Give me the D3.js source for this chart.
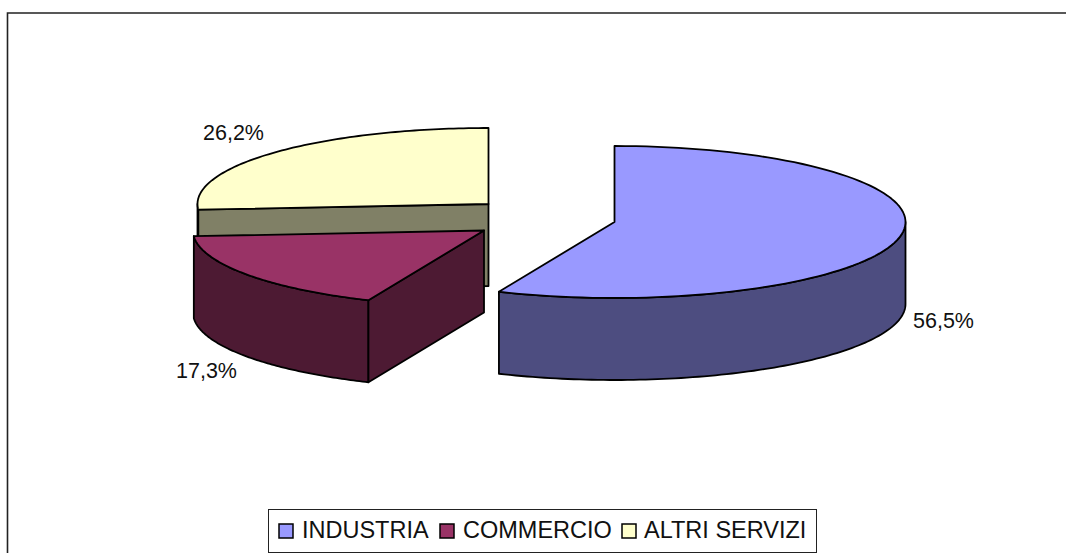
<!DOCTYPE html>
<html><head><meta charset="utf-8">
<script src="https://cdn.jsdelivr.net/npm/d3@7/dist/d3.min.js"></script>
<style>html,body{margin:0;padding:0;background:#fff;overflow:hidden}svg{display:block}
text{font-family:"Liberation Sans",Arial,sans-serif;fill:#111}</style></head>
<body><svg id="c" width="1066" height="553"></svg>
<script>
const categories = ["INDUSTRIA", "COMMERCIO", "ALTRI SERVIZI"];
const values = [56.5, 17.3, 26.2];
const pctLabels = ["56,5%", "17,3%", "26,2%"];
const topColors = ["#9999ff", "#993366", "#ffffcc"];
const sideColors = ["#4d4d80", "#4d1a33", "#808066"];

// layout
const rx = 291, ry = 76, depth = 82;
const apex = [[614.5, 222], [484, 230.5], [488.5, 204]];
const labelPos = [[913, 328], [176, 378], [203, 140]];
const svg = d3.select("#c");

svg.append("path").attr("d", "M7.5,553V13H1066").attr("fill", "none").attr("stroke", "#222").attr("stroke-width", 1.6);

const pie = d3.pie().sort(null);
const arcs = pie(values);
const px = d3.scaleLinear().domain([-1, 1]);
const py = d3.scaleLinear().domain([-1, 1]);

function pt(i, a, dz = 0) {
  px.range([apex[i][0] - rx, apex[i][0] + rx]);
  py.range([apex[i][1] + ry, apex[i][1] - ry]);
  return [px(Math.sin(a)), py(Math.cos(a)) + dz];
}
const line = d3.line();
function rim(i, a0, a1, dz = 0) {
  return d3.range(0, 97).map(k => pt(i, a0 + (a1 - a0) * k / 96, dz));
}
const strokeAttrs = s => s.attr("stroke", "#000").attr("stroke-width", 1.8).attr("stroke-linejoin", "round");
const order = [2, 1, 0];
const HALF = Math.PI / 2, TAU = Math.PI * 2;

order.forEach(i => {
  const a = arcs[i], g = svg.append("g");
  const c = apex[i];
  // outer wall: only the part of the rim turned towards the viewer
  const s0 = Math.max(a.startAngle, HALF), s1 = Math.min(a.endAngle, 3 * HALF);
  if (s1 > s0) {
    const upper = rim(i, s0, s1), lower = rim(i, s1, s0, depth);
    strokeAttrs(g.append("path").attr("d", line(upper.concat(lower)) + "Z").attr("fill", sideColors[i]));
  }
  // radial wall at the start angle when it faces the viewer
  const n = (a.startAngle - HALF + TAU) % TAU;
  if (n > HALF + 1e-6 && n < 3 * HALF - 1e-6) {
    const p = pt(i, a.startAngle);
    const wall = [c, p, [p[0], p[1] + depth], [c[0], c[1] + depth]];
    strokeAttrs(g.append("path").attr("d", line(wall) + "Z").attr("fill", sideColors[i]));
  }
  // top face
  const top = [c].concat(rim(i, a.startAngle, a.endAngle));
  strokeAttrs(g.append("path").attr("d", line(top) + "Z").attr("fill", topColors[i]));
});

pctLabels.forEach((t, i) => {
  svg.append("text").attr("x", labelPos[i][0]).attr("y", labelPos[i][1]).attr("font-size", 21.5).text(t);
});

// legend
svg.append("rect").attr("x", 268.5).attr("y", 509.5).attr("width", 548).attr("height", 43)
  .attr("fill", "#fff").attr("stroke", "#222").attr("stroke-width", 1);
const swatchX = [279, 440, 622], textX = [302, 463, 644];
categories.forEach((t, i) => {
  svg.append("rect").attr("x", swatchX[i]).attr("y", 524).attr("width", 14).attr("height", 14)
    .attr("fill", topColors[i]).attr("stroke", "#000").attr("stroke-width", 1.5);
  svg.append("text").attr("x", textX[i]).attr("y", 538).attr("font-size", 23.5).text(t);
});
</script></body></html>
